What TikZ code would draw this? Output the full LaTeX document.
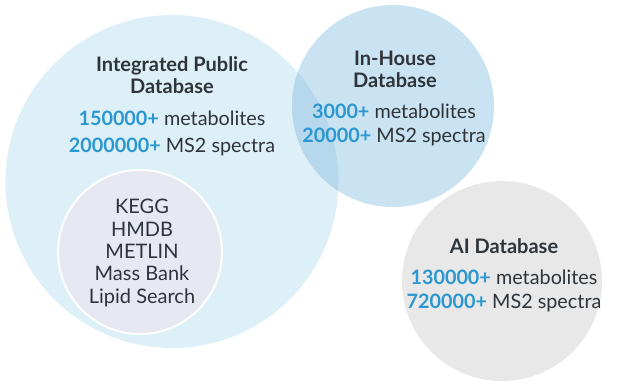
\documentclass[tikz,border=0pt]{standalone}
\usepackage{fontspec}
\setmainfont{Lato}
\definecolor{bigfill}{HTML}{DDF0F8}
\definecolor{housefill}{HTML}{C9E3F3}
\definecolor{overlapfill}{HTML}{B7D8EC}
\definecolor{grayfill}{HTML}{E8E8E8}
\definecolor{innerfill}{HTML}{E6E8F2}
\definecolor{numblue}{HTML}{2A97D0}
\definecolor{darktext}{HTML}{2E3439}
\tikzset{
  bubble/.style={circle, inner sep=0pt, draw=none},
  title/.style={font=\fontsize{20}{22}\selectfont\bfseries, text=darktext, align=center, inner sep=0pt},
  stat/.style={font=\fontsize{19.8}{22}\selectfont, text=darktext, inner sep=0pt},
  listtxt/.style={font=\fontsize{20}{22.3}\selectfont, text=darktext, align=center, inner sep=0pt},
}
\newcommand{\num}[1]{\textcolor{numblue}{\bfseries #1}}
\begin{document}
\begin{tikzpicture}[x=1pt,y=-1pt]
\useasboundingbox[fill=white] (0,0) rectangle (617,391);
% circles
\node[bubble, fill=bigfill, minimum size=333pt] (big) at (172,181.5) {};
\node[bubble, fill=housefill, minimum size=202pt] (house) at (393,106) {};
\begin{scope}
  \clip (172,181.5) circle (166.5pt);
  \fill[overlapfill] (393,106) circle (101pt);
\end{scope}
\node[bubble, fill=grayfill, minimum size=200pt] (ai) at (502,281) {};
\node[bubble, fill=innerfill, draw=white, line width=2pt, minimum size=164pt] (inner) at (140,252) {};
% texts
\node[title] (bigtitle) at (172,75.5) {Integrated Public\\Database};
\node[stat] (bigs1) at (172,118) {\num{150000+} metabolites};
\node[stat] (bigs2) at (172,147) {\num{2000000+} MS2 spectra};
\node[title] (housetitle) at (395,69.5) {In-House\\Database};
\node[stat] (houses1) at (394,111) {\num{3000+} metabolites};
\node[stat] (houses2) at (394,137) {\num{20000+} MS2 spectra};
\node[title] (aititle) at (504,246) {AI Database};
\node[stat] (ais1) at (504,277) {\num{130000+} metabolites};
\node[stat] (ais2) at (504,303) {\num{720000+} MS2 spectra};
\node[listtxt] (list) at (142,253) {KEGG\\HMDB\\METLIN\\Mass Bank\\Lipid Search};
\end{tikzpicture}
\end{document}
